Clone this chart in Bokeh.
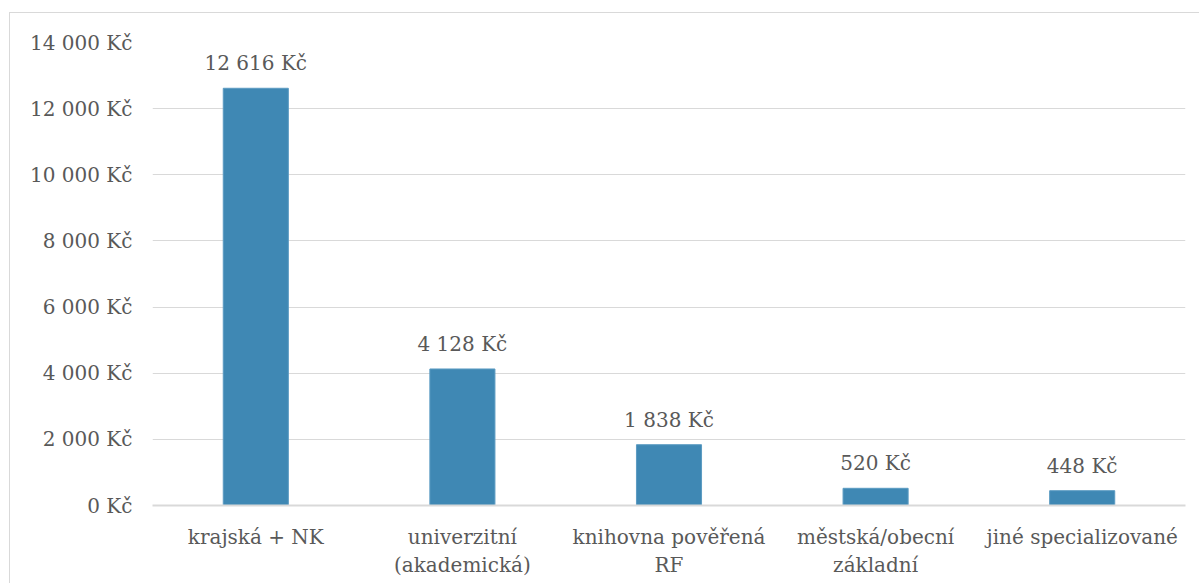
from bokeh.plotting import figure
from bokeh.models import ColumnDataSource, FixedTicker, CustomJSTickFormatter, Range1d
from bokeh.embed import file_html
from bokeh.resources import INLINE

categories = ["krajská + NK", "univerzitní\n(akademická)", "knihovna pověřená\nRF",
              "městská/obecní\nzákladní", "jiné specializované"]
values = [12616, 4128, 1838, 520, 448]
y_ticks = [0, 2000, 4000, 6000, 8000, 10000, 12000, 14000]

def fmt(v):
    return f"{v:,}".replace(",", " ") + " Kč"

labels = [fmt(v) for v in values]
src = ColumnDataSource(dict(cat=categories, val=values, lab=labels))

FONT = "DejaVu Serif"
TXT = "#595959"
GRID = "#d9d9d9"
FS = "20px"

p = figure(x_range=categories, y_range=Range1d(0, 14000), width=1190, height=571,
           output_backend="svg", toolbar_location=None,
           min_border_left=142, min_border_right=15, min_border_top=29, min_border_bottom=79)
p.margin = (12, 0, 0, 9)
p.styles = {"border-top": "1px solid #d9d9d9", "border-left": "1px solid #d9d9d9"}
p.outline_line_color = None

p.vbar(x="cat", top="val", width=0.315, source=src, color="#3f88b4", line_color="#5b9bc2", line_width=1)
p.text(x="cat", y="val", text="lab", source=src, text_align="center", text_baseline="bottom",
       y_offset=-13, text_font_size=FS, text_color=TXT, text_font={"value": FONT})

p.xgrid.grid_line_color = None
p.ygrid.grid_line_color = GRID
p.ygrid.ticker = FixedTicker(ticks=y_ticks)

p.yaxis.ticker = FixedTicker(ticks=y_ticks)
p.yaxis.formatter = CustomJSTickFormatter(code="return tick.toString().replace(/\\B(?=(\\d{3})+(?!\\d))/g, ' ') + ' Kč';")
p.yaxis.axis_line_color = None
p.yaxis.major_tick_line_color = None
p.yaxis.minor_tick_line_color = None
p.yaxis.major_label_standoff = 14
p.yaxis.major_label_text_font = FONT
p.yaxis.major_label_text_font_size = FS
p.yaxis.major_label_text_color = TXT

p.xaxis.axis_line_color = GRID
p.xaxis.axis_line_width = 2
p.xaxis.major_tick_line_color = None
p.xaxis.major_label_standoff = 13
p.xaxis.major_label_text_font = FONT
p.xaxis.major_label_text_font_size = FS
p.xaxis.major_label_text_color = TXT

open("out.html", "w").write(file_html(p, INLINE))
